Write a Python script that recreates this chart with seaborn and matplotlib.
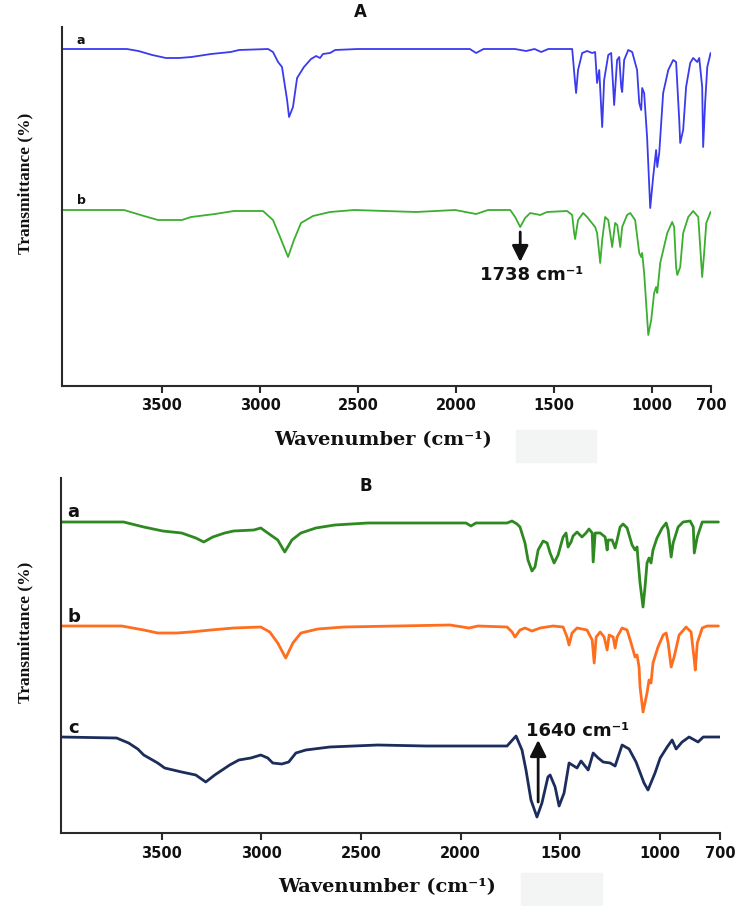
import matplotlib
matplotlib.use("Agg")
import matplotlib.pyplot as plt
import seaborn as sns
import pandas as pd
from matplotlib.patches import Rectangle

# ---------------- data (wavenumber cm-1, transmittance in arbitrary units) ----------------
A_a_wn = [4010, 3679, 3620, 3550, 3480, 3413, 3350, 3250, 3150, 3107, 2959, 2934, 2908, 2888, 2862,
          2852, 2832, 2811, 2776, 2740, 2714, 2694, 2679, 2643, 2617, 2500, 1930, 1898, 1860, 1700,
          1643, 1600, 1566, 1530, 1408, 1393, 1388, 1378, 1357, 1332, 1306, 1291, 1281, 1270, 1255,
          1245, 1224, 1209, 1199, 1194, 1179, 1168, 1158, 1153, 1143, 1122, 1102, 1077, 1066, 1056,
          1051, 1041, 1026, 1010, 995, 980, 974, 964, 944, 918, 893, 878, 862, 857, 842,
          827, 806, 791, 770, 760, 745, 740, 730, 719, 702]
A_a_T = [337, 337, 335, 331, 328, 328, 329, 332, 334, 336, 337, 334, 324, 319, 286,
         269, 279, 308, 319, 327, 330, 328, 332, 333, 336, 337, 337, 333, 337, 337,
         335, 337, 334, 337, 337, 303, 293, 316, 333, 335, 333, 334, 303, 316, 259,
         306, 331, 333, 299, 281, 326, 329, 299, 294, 326, 336, 334, 316, 283, 276,
         298, 293, 249, 178, 209, 236, 219, 233, 293, 316, 326, 324, 266, 243, 256,
         299, 323, 328, 324, 328, 299, 239, 283, 319, 333]

A_b_wn = [4010, 3694, 3592, 3520, 3398, 3352, 3230, 3133, 2985, 2934, 2898, 2857, 2827, 2791, 2730,
          2643, 2520, 2204, 2005, 1898, 1837, 1724, 1699, 1673, 1648, 1622, 1571, 1536, 1434, 1408,
          1398, 1393, 1378, 1352, 1332, 1291, 1281, 1265, 1255, 1240, 1224, 1204, 1189, 1178, 1163,
          1153, 1128, 1112, 1087, 1066, 1056, 1051, 1041, 1026, 1020, 1005, 990, 980, 974, 959,
          923, 898, 888, 878, 872, 857, 842, 816, 791, 765, 755, 745, 735, 724, 702]
A_b_T = [176, 176, 170, 166, 166, 169, 172, 175, 175, 166, 149, 129, 146, 163, 170,
         174, 176, 174, 176, 172, 176, 176, 169, 159, 168, 173, 171, 174, 175, 171,
         153, 147, 166, 173, 169, 159, 153, 123, 146, 169, 166, 139, 163, 161, 139,
         159, 171, 173, 166, 133, 129, 133, 113, 69, 51, 66, 93, 99, 93, 123,
         153, 164, 159, 119, 111, 119, 153, 169, 175, 169, 139, 109, 133, 163, 174]

B_a_wn = [4005, 3691, 3590, 3495, 3400, 3329, 3289, 3244, 3184, 3139, 3038, 3003, 2968, 2918, 2883,
          2847, 2802, 2727, 2632, 2466, 1974, 1949, 1924, 1768, 1743, 1718, 1703, 1678, 1663, 1643,
          1628, 1612, 1587, 1567, 1552, 1532, 1512, 1487, 1472, 1462, 1447, 1437, 1417, 1392, 1372,
          1357, 1341, 1336, 1326, 1301, 1276, 1266, 1261, 1241, 1226, 1216, 1201, 1186, 1166, 1141,
          1126, 1116, 1111, 1101, 1086, 1076, 1066, 1056, 1046, 1036, 1016, 990, 970, 960, 945,
          935, 910, 885, 850, 834, 829, 814, 789, 708]
B_a_T = [311, 311, 306, 302, 300, 295, 291, 296, 300, 302, 303, 305, 300, 293, 281,
         293, 300, 305, 308, 310, 310, 307, 310, 310, 312, 309, 306, 290, 273, 262,
         266, 283, 292, 290, 280, 270, 278, 296, 300, 286, 291, 297, 301, 296, 300,
         304, 300, 271, 300, 300, 296, 283, 293, 293, 285, 293, 306, 309, 305, 288,
         283, 286, 273, 250, 226, 246, 270, 275, 270, 283, 295, 305, 310, 303, 276,
         290, 306, 311, 312, 306, 280, 296, 311, 311]

B_b_wn = [4005, 3701, 3590, 3520, 3425, 3354, 3254, 3139, 3003, 2958, 2918, 2878, 2842, 2802, 2717,
          2586, 2054, 1959, 1914, 1768, 1743, 1728, 1703, 1678, 1643, 1602, 1537, 1487, 1467, 1457,
          1442, 1417, 1367, 1341, 1331, 1321, 1301, 1281, 1266, 1256, 1236, 1226, 1216, 1191, 1166,
          1146, 1126, 1116, 1106, 1101, 1086, 1066, 1056, 1046, 1036, 1011, 985, 970, 960, 945,
          930, 905, 870, 845, 829, 824, 814, 789, 764, 708]
B_b_T = [207, 207, 203, 200, 200, 201, 203, 205, 206, 201, 190, 175, 190, 200, 204,
         206, 208, 205, 207, 206, 201, 196, 203, 205, 202, 205, 207, 206, 196, 188,
         200, 205, 203, 193, 170, 196, 201, 196, 183, 198, 196, 185, 196, 205, 203,
         190, 176, 178, 166, 146, 121, 140, 153, 150, 170, 186, 198, 200, 190, 166,
         176, 198, 206, 201, 173, 163, 190, 205, 207, 207]

B_c_wn = [4005, 3726, 3666, 3620, 3590, 3520, 3485, 3400, 3329, 3279, 3234, 3159, 3113, 3053, 3003,
          2968, 2943, 2898, 2863, 2827, 2777, 2657, 2416, 2175, 1768, 1723, 1693, 1673, 1648, 1618,
          1593, 1563, 1552, 1527, 1507, 1482, 1457, 1417, 1397, 1361, 1336, 1311, 1286, 1251, 1226,
          1191, 1156, 1121, 1081, 1061, 1026, 1000, 965, 940, 920, 890, 855, 810, 784, 702]
B_c_T = [96, 95, 90, 84, 78, 70, 65, 61, 58, 51, 58, 68, 73, 75, 78,
         75, 70, 69, 71, 80, 83, 86, 88, 87, 87, 97, 83, 63, 33, 16,
         30, 56, 58, 46, 27, 40, 70, 65, 72, 63, 80, 75, 71, 70, 67,
         88, 84, 71, 50, 43, 60, 75, 86, 93, 84, 91, 96, 91, 96, 96]

tick_values = [3500, 3000, 2500, 2000, 1500, 1000, 700]
tick_labels = ["3500", "3000", "2500", "2000", "1500", "1000", "700"]

# ---------------- figure ----------------
sns.set_theme(style="white")
plt.rcParams["font.family"] = ["DejaVu Sans"]

W, H = 747, 906
fig = plt.figure(figsize=(W / 100, H / 100), dpi=100)
fig.patch.set_facecolor("white")


def fx(px):
    return px / W


def fy(py):
    return 1 - py / H


axA = fig.add_axes([fx(62), fy(386), fx(711) - fx(62), (386 - 27) / H])
axB = fig.add_axes([fx(61), fy(833), fx(720) - fx(61), (833 - 478) / H])

spine_col = "#2a2a2a"


def style_axes(ax, xmax, ytop):
    ax.set_facecolor("white")
    ax.set_xlim(xmax, 700)
    ax.set_ylim(0, ytop)
    for s in ["top", "right"]:
        ax.spines[s].set_visible(False)
    for s in ["left", "bottom"]:
        ax.spines[s].set_color(spine_col)
        ax.spines[s].set_linewidth(1.5)
    ax.set_yticks([])
    ax.set_xticks(tick_values)
    ax.set_xticklabels(tick_labels, fontsize=10.5, fontweight="bold", color="#111111")
    ax.tick_params(axis="x", direction="out", length=5, width=1.5, color=spine_col, pad=4,
                   bottom=True)
    ax.set_xlabel("")
    ax.set_ylabel("")
    ax.grid(False)


def draw(ax, wn, t, color, lw):
    df = pd.DataFrame({"wn": wn, "T": t})
    sns.lineplot(data=df, x="wn", y="T", ax=ax, color=color, linewidth=lw, sort=False,
                 estimator=None)
    ax.lines[-1].set_solid_joinstyle("round")


draw(axA, A_a_wn, A_a_T, "#3a3aee", 1.3)
draw(axA, A_b_wn, A_b_T, "#3cae30", 1.3)
draw(axB, B_a_wn, B_a_T, "#2e8a20", 2.0)
draw(axB, B_b_wn, B_b_T, "#ff6d1e", 2.0)
draw(axB, B_c_wn, B_c_T, "#1c2d5c", 2.0)

style_axes(axA, 4010, 359)
style_axes(axB, 4005, 355)

# curve labels
axA.text(3913, 345, "a", fontsize=9, fontweight="bold", ha="center", va="center", color="#111111")
axA.text(3913, 185, "b", fontsize=9, fontweight="bold", ha="center", va="center", color="#111111")
axB.text(3942, 321, "a", fontsize=13, fontweight="bold", ha="center", va="center", color="#111111")
axB.text(3942, 216, "b", fontsize=13, fontweight="bold", ha="center", va="center", color="#111111")
axB.text(3942, 105, "c", fontsize=13, fontweight="bold", ha="center", va="center", color="#111111")

# annotations
arrow_kw = dict(arrowstyle="-|>,head_length=0.7,head_width=0.35", lw=2, color="#111111",
                shrinkA=0, shrinkB=0, mutation_scale=14)
axA.annotate("", xy=(1673, 124), xytext=(1673, 154), arrowprops=arrow_kw)
axA.text(1617, 111, "1738 cm\u207b\u00b9", fontsize=13, fontweight="bold", ha="center",
         va="center", color="#111111")
axB.annotate("", xy=(1612, 93), xytext=(1612, 31), arrowprops=arrow_kw)
axB.text(1412, 102, "1640 cm\u207b\u00b9", fontsize=13, fontweight="bold", ha="center",
         va="center", color="#111111")

# panel titles
fig.text(fx(360), fy(12), "A", fontsize=12, fontweight="bold", ha="center", va="center", color="#111111")
fig.text(fx(366), fy(486), "B", fontsize=12, fontweight="bold", ha="center", va="center", color="#111111")

# axis labels
serif = ["Liberation Serif", "DejaVu Serif"]
for y in (183, 632):
    fig.text(fx(25), fy(y), "Transmittance (%)", rotation=90, fontsize=12.5, fontweight="bold",
             family=serif, ha="center", va="center", color="#111111")
for x, y in ((383, 440), (387, 887)):
    fig.text(fx(x), fy(y), "Wavenumber (cm\u207b\u00b9)", fontsize=14, fontweight="bold",
             family=["DejaVu Serif"], ha="center", va="center", color="#111111")

# faint grey patches present in the source image
fig.patches.append(Rectangle((fx(516), fy(462)), (596 - 516) / W, (462 - 430) / H,
                             transform=fig.transFigure, color="#f3f4f4", zorder=-5))
fig.patches.append(Rectangle((fx(521), fy(906)), (602 - 521) / W, (906 - 873) / H,
                             transform=fig.transFigure, color="#f3f4f4", zorder=-5))

fig.savefig("out.png", dpi=100, facecolor="white")
